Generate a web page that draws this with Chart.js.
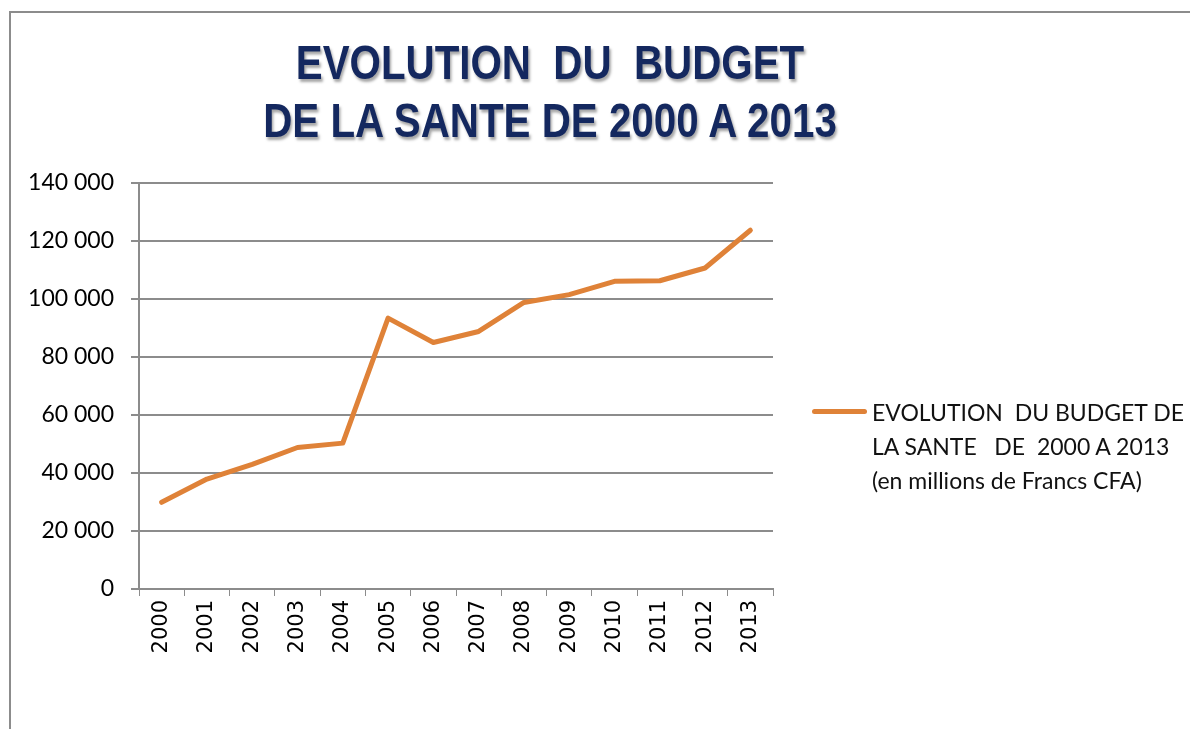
<!DOCTYPE html>
<html>
<head>
<meta charset="utf-8">
<script src="https://cdn.jsdelivr.net/npm/chart.js@4/dist/chart.umd.min.js"></script>
<style>
  body { margin: 0; background: #fff; }
  #wrap { position: relative; width: 1190px; height: 729px; overflow: hidden; }
  #frame { position: absolute; left: 9px; top: 11px; right: -5px; bottom: -5px;
           border-top: 2px solid #8c8c8c; border-left: 2px solid #8c8c8c; }
  #titre { position: absolute; left: 0; width: 1100px; top: 34px; text-align: center;
           font-family: "Liberation Sans", sans-serif; font-weight: bold; white-space: pre;
           font-size: 48px; line-height: 58px; color: #14285f;
           transform: scaleX(0.84); transform-origin: 550px 0;
           text-shadow: 2px 3px 3px rgba(0,0,0,0.35); }
  #legende { position: absolute; left: 812px; top: 395px; font-family: Lato, sans-serif;
             font-size: 23px; line-height: 34px; color: #111; }
  #legende .trait { position: absolute; left: 0; top: 14px; width: 55px; height: 5px;
                    border-radius: 3px; background: #df8238; }
  #legende .txt { margin-left: 60px; white-space: pre; }
  canvas { position: absolute; left: 0; top: 0; }
</style>
</head>
<body>
<div id="wrap">
  <div id="frame"></div>
  <canvas id="graphe" width="1190" height="729"></canvas>
  <div id="titre"></div>
  <div id="legende"><div class="trait"></div><div class="txt"></div></div>
</div>
<script>
var titreLignes = ['EVOLUTION  DU  BUDGET', 'DE LA SANTE DE 2000 A 2013'];
var annees = ['2000', '2001', '2002', '2003', '2004', '2005', '2006', '2007', '2008', '2009', '2010', '2011', '2012', '2013'];
var budget = [29900, 37900, 43000, 48800, 50300, 93400, 85000, 88800, 98800, 101500, 106100, 106300, 110700, 123700];
var legendeLignes = ['EVOLUTION  DU BUDGET DE', 'LA SANTE   DE  2000 A 2013', '(en millions de Francs CFA)'];

document.getElementById('titre').textContent = titreLignes.join('\n');
document.querySelector('#legende .txt').textContent = legendeLignes.join('\n');

function milliers(v) {
    return v.toString().replace(/\B(?=(\d{3})+(?!\d))/g, ' ');
}

var ctx = document.getElementById('graphe').getContext('2d');
var myChart = new Chart(ctx, {
    type: 'line',
    data: {
        labels: annees,
        datasets: [{
            label: legendeLignes.join(' '),
            data: budget,
            borderColor: '#df8238',
            borderWidth: 5,
            borderCapStyle: 'round',
            borderJoinStyle: 'round',
            pointRadius: 0,
            tension: 0,
            fill: false
        }]
    },
    options: {
        responsive: false,
        animation: false,
        layout: { padding: { top: 183, right: 417, bottom: 0, left: 0 } },
        plugins: {
            legend: { display: false },
            title: { display: false },
            tooltip: { enabled: false }
        },
        scales: {
            x: {
                offset: true,
                afterFit: function (s) { s.height = 140; },
                grid: { display: true, offset: true, drawOnChartArea: false, drawTicks: true,
                        tickLength: 7, color: '#8c8c8c', lineWidth: 1 },
                border: { display: true, color: '#8c8c8c', width: 2 },
                ticks: { minRotation: 90, maxRotation: 90, padding: 4, color: '#000',
                         font: { family: 'DejaVu Sans', size: 21 } }
            },
            y: {
                min: 0,
                max: 140000,
                afterFit: function (s) { s.width = 139; },
                grid: { color: '#8c8c8c', lineWidth: 2, tickLength: 8, drawTicks: true },
                border: { display: true, color: '#8c8c8c', width: 2 },
                ticks: { stepSize: 20000, padding: 17, color: '#000',
                         font: { family: 'Lato', size: 23 },
                         callback: function (v) { return milliers(v); } }
            }
        }
    }
});
</script>
</body>
</html>
